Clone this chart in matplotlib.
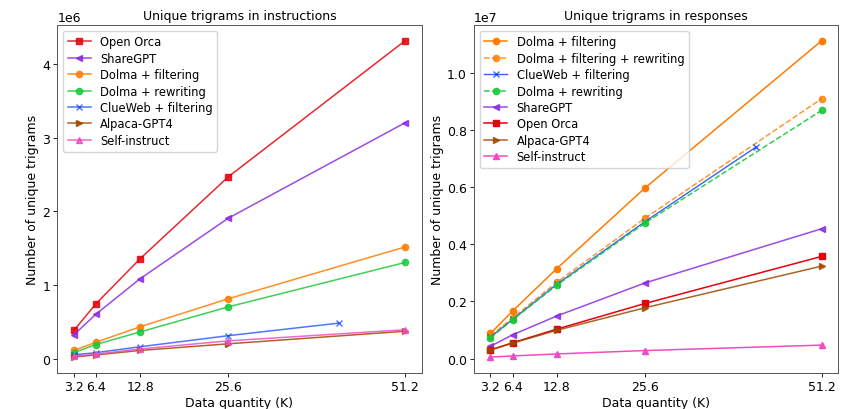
import matplotlib
matplotlib.use("Agg")
import matplotlib.pyplot as plt

x = [3.2, 6.4, 12.8, 25.6, 51.2]
x_clueweb = [3.2, 6.4, 12.8, 25.6, 41.6]
xticks = [3.2, 6.4, 12.8, 25.6, 51.2]
xticklabels = ['3.2', '6.4', '12.8', '25.6', '51.2']

# Instructions (units of 1e6)
inst_openorca = [0.39, 0.75, 1.36, 2.47, 4.31]
inst_sharegpt = [0.33, 0.61, 1.09, 1.91, 3.20]
inst_dolma_filt = [0.12, 0.23, 0.44, 0.82, 1.52]
inst_dolma_rew = [0.09, 0.20, 0.37, 0.71, 1.31]
inst_clueweb = [0.06, 0.09, 0.17, 0.32, 0.49]
inst_alpaca = [0.03, 0.06, 0.12, 0.21, 0.38]
inst_selfinst = [0.04, 0.07, 0.14, 0.25, 0.40]

# Responses (units of 1e7)
resp_dolma_filt = [0.088, 0.166, 0.315, 0.598, 1.114]
resp_dolma_filt_rew = [0.080, 0.142, 0.267, 0.492, 0.911]
resp_clueweb = [0.075, 0.137, 0.260, 0.480, 0.740]
resp_dolma_rew = [0.073, 0.135, 0.257, 0.475, 0.870]
resp_sharegpt = [0.043, 0.083, 0.149, 0.265, 0.455]
resp_openorca = [0.030, 0.055, 0.103, 0.193, 0.358]
resp_alpaca = [0.030, 0.054, 0.099, 0.178, 0.324]
resp_selfinst = [0.005, 0.009, 0.016, 0.028, 0.047]

RED = '#e8000b'
PURPLE = '#8b2be2'
ORANGE = '#ff7c00'
GREEN = '#1ac938'
BLUE = '#023eff'
BROWN = '#9f4800'
PINK = '#f14cc1'

plt.rcParams['font.family'] = ['DejaVu Sans']
plt.rcParams['legend.edgecolor'] = '#cccccc'
fig, (ax1, ax2) = plt.subplots(1, 2, figsize=(8.67, 4.10), dpi=100)
fig.subplots_adjust(left=0.066, right=0.967, bottom=0.088, top=0.937, wspace=0.143)

ms = 4.5
lw = 1.1
a = 0.85
ax1.plot(x, [v * 1e6 for v in inst_openorca], marker='s', color=RED, ms=ms, lw=lw, alpha=a, label='Open Orca')
ax1.plot(x, [v * 1e6 for v in inst_sharegpt], marker='<', color=PURPLE, ms=ms, lw=lw, alpha=a, label='ShareGPT')
ax1.plot(x, [v * 1e6 for v in inst_dolma_filt], marker='o', color=ORANGE, ms=ms, lw=lw, alpha=a, label='Dolma + filtering')
ax1.plot(x, [v * 1e6 for v in inst_dolma_rew], marker='o', color=GREEN, ms=ms, lw=lw, alpha=a, label='Dolma + rewriting')
ax1.plot(x_clueweb, [v * 1e6 for v in inst_clueweb], marker='x', color=BLUE, ms=ms, lw=lw, alpha=0.7, label='ClueWeb + filtering')
ax1.plot(x, [v * 1e6 for v in inst_alpaca], marker='>', color=BROWN, ms=ms, lw=lw, alpha=a, label='Alpaca-GPT4')
ax1.plot(x, [v * 1e6 for v in inst_selfinst], marker='^', color=PINK, ms=ms, lw=lw, alpha=a, label='Self-instruct')
ax1.set_title('Unique trigrams in instructions', fontsize=9, pad=4)
ax1.set_xlabel('Data quantity (K)', fontsize=9, labelpad=2)
ax1.set_ylabel('Number of unique trigrams', fontsize=9, labelpad=2)
ax1.set_xticks(xticks)
ax1.set_xticklabels(xticklabels)
ax1.legend(loc='upper left', fontsize=8.3, labelspacing=0.3)

ax2.plot(x, [v * 1e7 for v in resp_dolma_filt], marker='o', color=ORANGE, ms=ms, lw=lw, label='Dolma + filtering')
ax2.plot(x, [v * 1e7 for v in resp_dolma_filt_rew], marker='o', color=ORANGE, ms=ms, lw=lw, ls='--', alpha=0.8, label='Dolma + filtering + rewriting')
ax2.plot(x_clueweb, [v * 1e7 for v in resp_clueweb], marker='x', color=BLUE, ms=ms, lw=1.0, alpha=0.8, label='ClueWeb + filtering')
ax2.plot(x, [v * 1e7 for v in resp_dolma_rew], marker='o', color=GREEN, ms=ms, lw=lw, ls='--', alpha=0.9, label='Dolma + rewriting')
ax2.plot(x, [v * 1e7 for v in resp_sharegpt], marker='<', color=PURPLE, ms=ms, lw=lw, alpha=0.85, label='ShareGPT')
ax2.plot(x, [v * 1e7 for v in resp_openorca], marker='s', color=RED, ms=ms, lw=lw, label='Open Orca')
ax2.plot(x, [v * 1e7 for v in resp_alpaca], marker='>', color=BROWN, ms=ms, lw=lw, alpha=0.85, label='Alpaca-GPT4')
ax2.plot(x, [v * 1e7 for v in resp_selfinst], marker='^', color=PINK, ms=ms, lw=lw, label='Self-instruct')
ax2.set_title('Unique trigrams in responses', fontsize=9, pad=4)
ax2.set_xlabel('Data quantity (K)', fontsize=9, labelpad=2)
ax2.set_ylabel('Number of unique trigrams', fontsize=9, labelpad=2)
ax2.set_xticks(xticks)
ax2.set_xticklabels(xticklabels)
ax2.legend(loc='upper left', fontsize=8.3, labelspacing=0.3)

for ax in (ax1, ax2):
    ax.tick_params(labelsize=9, length=2.6, width=0.6, pad=2.4)
    ax.yaxis.get_offset_text().set_fontsize(9)
    for s in ax.spines.values():
        s.set_color('#555555')
        s.set_linewidth(0.7)

fig.savefig('out.png', dpi=100)
